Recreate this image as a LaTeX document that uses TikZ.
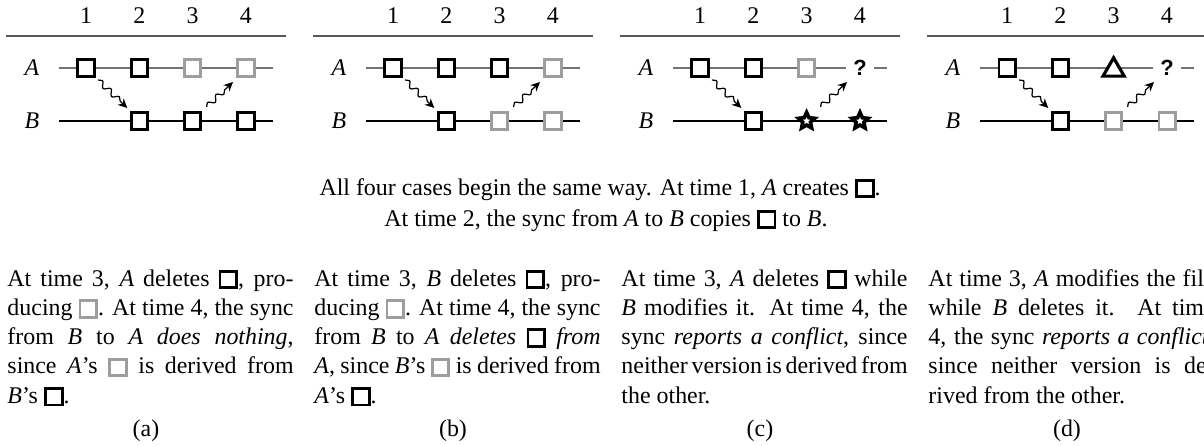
\documentclass[tikz,border=0pt]{standalone}
\usepackage{fontspec}
\setmainfont{Liberation Serif}
\setsansfont{Liberation Sans}
\usepackage{xcolor}
\usetikzlibrary{arrows.meta,shapes.geometric,decorations.pathmorphing,calc}

\definecolor{filegray}{gray}{0.62}
\definecolor{rulegray}{gray}{0.35}
\definecolor{linegray}{gray}{0.45}

% little file squares used inside the text
\newcommand{\blkfile}{{\setlength{\fboxsep}{0pt}\setlength{\fboxrule}{1.2pt}%
  \raisebox{-0.2pt}{\fcolorbox{black}{white}{\rule{0pt}{5.6pt}\hspace{5.6pt}}}}}
\newcommand{\gryfile}{{\setlength{\fboxsep}{0pt}\setlength{\fboxrule}{1.2pt}%
  \raisebox{-0.2pt}{\fcolorbox{filegray}{white}{\rule{0pt}{5.6pt}\hspace{5.6pt}}}}}

\begin{document}
\begin{tikzpicture}[x=0.41pt, y=-0.41pt, font=\fontsize{9.8}{12}\selectfont,
	filebox/.style={draw, line width=1.2pt, fill=white, minimum size=6.6pt, inner sep=0pt},
	blk/.style={filebox, draw=black},
	gry/.style={filebox, draw=filegray},
	starfile/.style={star, star points=5, star point ratio=2.1, draw=black, fill=white, line width=1.5pt, minimum size=7pt, inner sep=0pt},
	trifile/.style={regular polygon, regular polygon sides=3, draw=black, fill=white, line width=1.3pt, minimum size=10pt, inner sep=0pt},
	conflict/.style={fill=white, inner xsep=3pt, inner ysep=1pt, font=\fontsize{9}{10}\sffamily\bfseries},
	sync/.style={-{Stealth[length=3.8pt,width=3.6pt]}, line width=0.5pt, decorate,
	  decoration={snake, amplitude=1.1pt, segment length=4.8pt, post length=3.4pt}},
	para/.style={text width=117.3pt, align=justify, inner sep=0pt, anchor=base west}]
	\useasboundingbox (0,0) rectangle (1204,445);
	\clip (0,0) rectangle (1204,445);
	% common frame of the four timelines
	\foreach \p [count=\i from 0] in {a,b,c,d} {
		\draw[rulegray, line width=0.8pt] (6+307*\i,36) -- (286+307*\i,36);
		\foreach \t in {1,...,4}
			\node[anchor=base] (p\p-t\t) at (86+53.3*\t-53.3+307*\i,24) {\t};
		\node (p\p-A) at (32+307*\i,68) {\textit{A}};
		\node (p\p-B) at (32+307*\i,121) {\textit{B}};
		\coordinate (p\p-As) at (59+307*\i,68);
		\coordinate (p\p-Ae) at (273+307*\i,68);
		\coordinate (p\p-Bs) at (59+307*\i,121);
		\coordinate (p\p-Be) at (273+307*\i,121);
		\draw[linegray, line width=0.45pt] (p\p-As) -- (p\p-Ae);
		\draw[black, line width=0.45pt] (p\p-Bs) -- (p\p-Be);
	}
	% (a)
	\node[blk] (pa-A1) at (86,68) {};
	\node[blk] (pa-A2) at (139.3,68) {};
	\node[gry] (pa-A3) at (192.6,68) {};
	\node[gry] (pa-A4) at (246,68) {};
	\node[blk] (pa-B2) at (139.3,121) {};
	\node[blk] (pa-B3) at (192.6,121) {};
	\node[blk] (pa-B4) at (246,121) {};
	% (b)
	\node[blk] (pb-A1) at (393,68) {};
	\node[blk] (pb-A2) at (446.3,68) {};
	\node[blk] (pb-A3) at (499.6,68) {};
	\node[gry] (pb-A4) at (553,68) {};
	\node[blk] (pb-B2) at (446.3,121) {};
	\node[gry] (pb-B3) at (499.6,121) {};
	\node[gry] (pb-B4) at (553,121) {};
	% (c)
	\node[blk] (pc-A1) at (700,68) {};
	\node[blk] (pc-A2) at (753.3,68) {};
	\node[gry] (pc-A3) at (806.6,68) {};
	\node[conflict] (pc-A4) at (860,68) {?};
	\node[blk] (pc-B2) at (753.3,121) {};
	\node[starfile] (pc-B3) at (806.6,121) {};
	\node[starfile] (pc-B4) at (860,121) {};
	% (d)
	\node[blk] (pd-A1) at (1007,68) {};
	\node[blk] (pd-A2) at (1060.3,68) {};
	\node[trifile] (pd-A3) at (1113.6,70) {};
	\node[conflict] (pd-A4) at (1167,68) {?};
	\node[blk] (pd-B2) at (1060.3,121) {};
	\node[gry] (pd-B3) at (1113.6,121) {};
	\node[gry] (pd-B4) at (1167,121) {};
	% syncs
	\foreach \p in {a,b,c,d} {
		\draw[sync] ($(p\p-A1)+(12,12)$) -- ($(p\p-B2)+(-12,-13)$);
		\draw[sync] ($(p\p-B3)+(14,-14)$) -- ($(p\p-A4)+(-13,14)$);
	}
	\node[anchor=base] (intro1) at (600,195)
	  {All four cases begin the same way. At time 1, \textit{A} creates \blkfile.};
	\node[anchor=base] (intro2) at (606,226)
	  {At time 2, the sync from \textit{A} to \textit{B} copies \blkfile{} to \textit{B}.};
	\node[para] (txa) at (7,286) {At time 3, \textit{A} deletes \blkfile, pro-\linebreak
	  ducing \gryfile. At time 4, the sync\linebreak
	  from \textit{B} to \textit{A} \textit{does nothing},\linebreak
	  since \textit{A}'s \gryfile{} is derived from\linebreak
	  \textit{B}'s \blkfile.};
	\node[para] (txb) at (314,286) {At time 3, \textit{B} deletes \blkfile, pro-\linebreak
	  ducing \gryfile. At time 4, the sync\linebreak
	  from \textit{B} to \textit{A} \textit{deletes} \blkfile{} \textit{from}\linebreak
	  \textit{A}, since \textit{B}'s \gryfile{} is derived from\linebreak
	  \textit{A}'s \blkfile.};
	\node[para] (txc) at (621,286) {At time 3, \textit{A} deletes \blkfile{} while\linebreak
	  \textit{B} modifies it. At time 4, the\linebreak
	  sync \textit{reports a conflict}, since\linebreak
	  \makebox[\linewidth][s]{\spaceskip=0.1em plus 1em\relax neither version is derived from}\linebreak
	  the other.};
	\node[para] (txd) at (928,286) {At time 3, \textit{A} modifies the file\linebreak
	  while \textit{B} deletes it. At time\linebreak
	  4, the sync \textit{reports a conflict},\linebreak
	  since neither version is de-\linebreak
	  rived from the other.};
	\node[anchor=base] (capa) at (146,436) {(a)};
	\node[anchor=base] (capb) at (453,436) {(b)};
	\node[anchor=base] (capc) at (760,436) {(c)};
	\node[anchor=base] (capd) at (1067,436) {(d)};
\end{tikzpicture}
\end{document}
